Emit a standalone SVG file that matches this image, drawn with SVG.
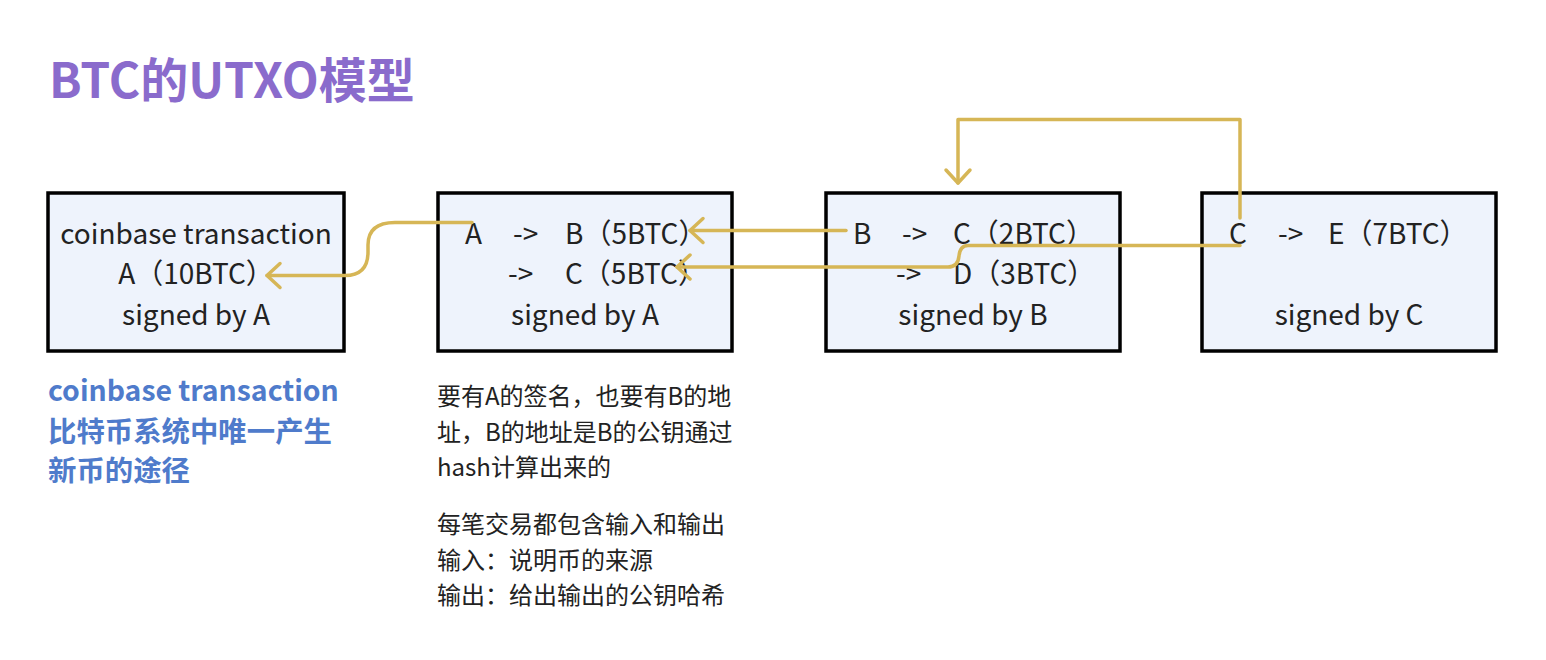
<svg xmlns="http://www.w3.org/2000/svg" width="1546" height="660" viewBox="0 0 1546 660">
<style>
.box{fill:#eef3fc;stroke:#000;stroke-width:3.5}
.t{font-family:"Noto Sans CJK SC","Noto Sans",sans-serif;font-size:28px;fill:#222}
.c{text-anchor:middle}
.title{font-family:"Noto Sans CJK SC","Noto Sans",sans-serif;font-size:48px;font-weight:bold;fill:#8a6bcc}
.blue{font-family:"Noto Sans CJK SC","Noto Sans",sans-serif;font-size:28.4px;font-weight:bold;fill:#4f7bcb}
.note{font-family:"Noto Sans CJK SC","Noto Sans",sans-serif;font-size:24px;fill:#222}
.conn{fill:none;stroke:#d6b656;stroke-width:3.5;stroke-linecap:round;stroke-linejoin:round}
</style>
<defs>
<marker id="arr" viewBox="-18 -16 22 32" markerWidth="22" markerHeight="32" refX="0" refY="0" markerUnits="userSpaceOnUse" orient="auto" overflow="visible">
<path d="M-13,-12 L0,0 L-13,12" fill="none" stroke="#d6b656" stroke-width="3.5" stroke-linecap="round" stroke-linejoin="round"/>
</marker>
</defs>
<rect width="1546" height="660" fill="#fff"/>
<text class="title" x="49" y="98">BTC的UTXO模型</text>

<g id="node1">
<rect class="box" x="48" y="193" width="296" height="158"/>
<text class="t c" x="196" y="244">coinbase transaction</text>
<text class="t c" x="196" y="284">A（10BTC）</text>
<text class="t c" x="196" y="325">signed by A</text>
</g>

<g id="node2">
<rect class="box" x="438" y="193" width="294" height="158"/>
<text class="t" y="244"><tspan x="465">A</tspan><tspan x="513">-&gt;</tspan><tspan x="565">B（5BTC）</tspan></text>
<text class="t" y="284"><tspan x="508">-&gt;</tspan><tspan x="565">C（5BTC）</tspan></text>
<text class="t c" x="585" y="325">signed by A</text>
</g>

<g id="node3">
<rect class="box" x="826" y="193" width="294" height="158"/>
<text class="t" y="244"><tspan x="853">B</tspan><tspan x="902">-&gt;</tspan><tspan x="953">C（2BTC）</tspan></text>
<text class="t" y="284"><tspan x="896">-&gt;</tspan><tspan x="953">D（3BTC）</tspan></text>
<text class="t c" x="973" y="325">signed by B</text>
</g>

<g id="node4">
<rect class="box" x="1202" y="193" width="294" height="158"/>
<text class="t" y="244"><tspan x="1229">C</tspan><tspan x="1278">-&gt;</tspan><tspan x="1328">E（7BTC）</tspan></text>
<text class="t c" x="1349" y="325">signed by C</text>
</g>

<g id="connectors">
<path class="conn" d="M472 222.5 L395 222.5 Q368 222.5 368 245 L368 252 Q368 275.5 345 275.5 L267 275.5" marker-end="url(#arr)"/>
<path class="conn" d="M846 230.5 L690 230.5" marker-end="url(#arr)"/>
<path class="conn" d="M1240 245.5 L968 245.5 Q960 245.5 959 256 Q958 267 948 267 L677 267" marker-end="url(#arr)"/>
<path class="conn" d="M1240 218 L1240 119.5 L958 119.5 L958 183" marker-end="url(#arr)"/>
</g>

<g id="notes">
<text class="blue" x="48" y="401">coinbase transaction</text>
<text class="blue" x="48" y="442">比特币系统中唯一产生</text>
<text class="blue" x="48" y="481">新币的途径</text>
<text class="note" x="437" y="405">要有A的签名，也要有B的地</text>
<text class="note" x="437" y="441">址，B的地址是B的公钥通过</text>
<text class="note" x="437" y="476">hash计算出来的</text>
<text class="note" x="437" y="533">每笔交易都包含输入和输出</text>
<text class="note" x="437" y="569">输入：说明币的来源</text>
<text class="note" x="437" y="604">输出：给出输出的公钥哈希</text>
</g>
</svg>
